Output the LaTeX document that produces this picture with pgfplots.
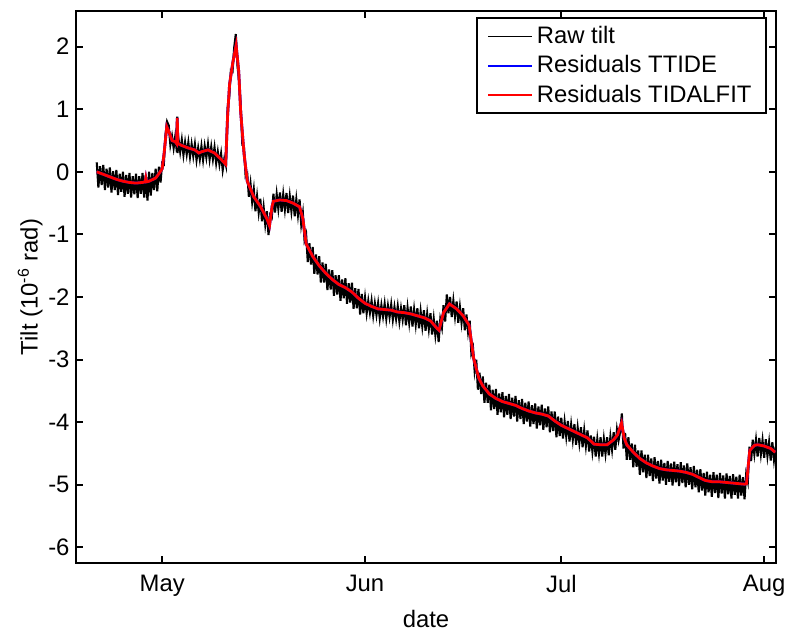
\documentclass[border=0pt]{standalone}
\usepackage{fontspec}
\setmainfont{Liberation Sans}
\usepackage{pgfplots}
\pgfplotsset{compat=1.18}
\usepackage{pgfplotstable}

\pgfplotstableread{
d y
-10 0.00
-9 -0.04
-8 -0.08
-7 -0.12
-6 -0.15
-5 -0.17
-4 -0.18
-3 -0.17
-2.6 -0.16
-2.5 -0.10
-2.4 -0.16
-2 -0.15
-1 -0.10
-0.5 -0.03
0 0.05
0.3 0.30
0.7 0.72
1 0.65
1.5 0.50
2 0.48
2.2 0.45
2.3 0.86
2.4 0.45
3 0.42
4 0.38
5 0.35
5.6 0.30
6 0.32
7 0.35
8 0.30
9 0.20
9.7 0.12
10 0.90
10.3 1.40
10.8 1.75
11.3 2.02
11.7 1.60
12 0.95
12.5 0.30
13 -0.15
14 -0.40
15 -0.55
16 -0.75
16.4 -0.86
16.8 -0.55
17 -0.47
18 -0.45
19 -0.46
20 -0.50
21 -0.56
21.5 -0.75
22 -1.15
23 -1.35
24 -1.50
25 -1.62
26 -1.72
27 -1.80
28 -1.85
29 -1.92
30 -2.02
31 -2.10
32 -2.15
33 -2.19
34 -2.20
35 -2.21
36 -2.24
37 -2.25
38 -2.27
39 -2.30
40 -2.33
41 -2.38
42 -2.50
42.3 -2.53
43 -2.25
43.9 -2.11
45 -2.19
46 -2.30
46.9 -2.45
47.3 -2.75
47.6 -2.98
48.4 -3.30
49 -3.42
49.7 -3.51
50 -3.55
51 -3.62
52 -3.67
53 -3.70
54 -3.73
55 -3.78
56 -3.82
57 -3.85
58 -3.87
59 -3.90
60 -3.98
61 -4.05
62 -4.10
63 -4.15
64 -4.20
65 -4.25
66 -4.35
67 -4.36
68 -4.36
69 -4.28
69.6 -4.20
70.2 -4.01
70.6 -4.25
71 -4.36
72 -4.48
73 -4.58
74 -4.65
75 -4.70
76 -4.74
77 -4.76
78 -4.77
79 -4.78
80 -4.80
81 -4.83
82 -4.88
83 -4.93
84 -4.95
85 -4.95
86 -4.96
87 -4.97
88 -4.98
89 -4.99
89.3 -4.98
89.8 -4.45
90.5 -4.37
91 -4.36
92 -4.38
93 -4.42
93.7 -4.48
}\resid

\pgfplotstableread{
d y
-10 0.15
-9.75 -0.25
-9.5 0.09
-9.25 -0.21
-9 0.11
-8.75 -0.29
-8.5 0.05
-8.25 -0.25
-8 0.07
-7.75 -0.33
-7.5 0.01
-7.25 -0.29
-7 0.03
-6.75 -0.37
-6.5 -0.03
-6.25 -0.32
-6 0.00
-5.75 -0.40
-5.5 -0.05
-5.25 -0.35
-5 -0.02
-4.75 -0.41
-4.5 -0.07
-4.25 -0.36
-4 -0.03
-3.75 -0.42
-3.5 -0.07
-3.25 -0.35
-3 -0.02
-2.75 -0.41
-2.5 -0.05
-2.25 -0.46
-2 0.00
-1.75 -0.38
-1.5 -0.02
-1.25 -0.29
-1 0.05
-0.75 -0.31
-0.5 0.08
-0.25 -0.17
0 0.14
0.25 0.12
0.5 0.58
0.75 0.80
1 0.74
1.25 0.43
1.5 0.57
1.75 0.38
2 0.57
2.25 0.31
2.3 0.88
2.35 0.30
2.5 0.52
2.75 0.32
3 0.51
3.25 0.27
3.5 0.47
3.75 0.28
4 0.47
4.25 0.24
4.5 0.44
4.75 0.25
5 0.44
5.25 0.19
5.5 0.38
5.75 0.20
6 0.41
6.25 0.19
6.5 0.41
6.75 0.23
7 0.44
7.25 0.20
7.5 0.40
7.75 0.20
8 0.39
8.25 0.14
8.5 0.32
8.75 0.12
9 0.29
9.25 0.03
9.5 0.21
9.75 0.10
10 1.02
10.25 1.20
10.5 1.62
10.75 1.60
11 1.98
11.25 2.20
11.5 1.70
11.75 1.45
12 1.07
12.25 0.43
12.5 0.39
12.75 -0.07
13 -0.03
13.25 -0.40
13.5 -0.19
13.75 -0.48
14 -0.28
14.25 -0.63
14.5 -0.39
14.75 -0.65
15 -0.43
15.25 -0.79
15.5 -0.56
15.75 -0.84
16 -0.63
16.25 -1.01
16.5 -0.69
16.75 -0.73
17 -0.35
17.25 -0.65
17.5 -0.36
17.75 -0.59
18 -0.33
18.25 -0.64
18.5 -0.36
18.75 -0.60
19 -0.34
19.25 -0.66
19.5 -0.39
19.75 -0.63
20 -0.38
20.25 -0.71
20.5 -0.44
20.75 -0.69
21 -0.44
21.25 -0.84
21.5 -0.66
21.75 -1.09
22 -1.00
22.25 -1.44
22.5 -1.14
22.75 -1.48
23 -1.20
23.25 -1.63
23.5 -1.32
23.75 -1.64
24 -1.35
24.25 -1.77
24.5 -1.45
24.75 -1.77
25 -1.47
25.25 -1.89
25.5 -1.56
25.75 -1.88
26 -1.57
26.25 -1.98
26.5 -1.65
26.75 -1.96
27 -1.65
27.25 -2.06
27.5 -1.72
27.75 -2.02
28 -1.70
28.25 -2.11
28.5 -1.78
28.75 -2.09
29 -1.77
29.25 -2.19
29.5 -1.86
29.75 -2.18
30 -1.87
30.25 -2.28
30.5 -1.95
30.75 -2.26
31 -2.01
31.25 -2.26
31.5 -2.06
31.75 -2.25
32 -2.06
32.25 -2.30
32.5 -2.10
32.75 -2.29
33 -2.10
33.25 -2.34
33.5 -2.13
33.75 -2.31
34 -2.11
34.25 -2.35
34.5 -2.14
34.75 -2.32
35 -2.12
35.25 -2.36
35.5 -2.16
35.75 -2.35
36 -2.15
36.25 -2.39
36.5 -2.18
36.75 -2.36
37 -2.13
37.25 -2.45
37.5 -2.17
37.75 -2.41
38 -2.15
38.25 -2.47
38.5 -2.20
38.75 -2.44
39 -2.18
39.25 -2.50
39.5 -2.23
39.75 -2.47
40 -2.21
40.25 -2.54
40.5 -2.27
40.75 -2.51
41 -2.26
41.25 -2.60
41.5 -2.35
41.75 -2.61
42 -2.38
42.25 -2.72
42.5 -2.36
42.75 -2.49
43 -2.13
43.25 -2.39
43.5 -1.96
43.75 -2.26
44 -2.00
44.25 -2.32
44.5 -2.06
44.75 -2.31
45 -2.07
45.25 -2.41
45.5 -2.16
45.75 -2.41
46 -2.18
46.25 -2.53
46.5 -2.28
46.75 -2.56
47 -2.38
47.25 -2.90
47.5 -2.81
47.75 -3.18
48 -3.00
48.25 -3.48
48.5 -3.21
48.75 -3.55
49 -3.27
49.25 -3.69
49.5 -3.37
49.75 -3.69
50 -3.40
50.25 -3.81
50.5 -3.48
50.75 -3.79
51 -3.47
51.25 -3.88
51.5 -3.54
51.75 -3.84
52 -3.52
52.25 -3.92
52.5 -3.58
52.75 -3.88
53 -3.55
53.25 -3.95
53.5 -3.61
53.75 -3.91
54 -3.58
54.25 -3.99
54.5 -3.65
54.75 -3.95
55 -3.63
55.25 -4.03
55.5 -3.69
55.75 -3.99
56 -3.67
56.25 -4.07
56.5 -3.73
56.75 -4.03
57 -3.70
57.25 -4.10
57.5 -3.75
57.75 -4.05
58 -3.72
58.25 -4.12
58.5 -3.78
58.75 -4.08
59 -3.75
59.25 -4.16
59.5 -3.83
59.75 -4.14
60 -3.83
60.25 -4.24
60.5 -3.91
60.75 -4.22
61 -3.93
61.25 -4.26
61.5 -3.99
61.75 -4.23
62 -3.98
62.25 -4.31
62.5 -4.04
62.75 -4.28
63 -4.03
63.25 -4.36
63.5 -4.09
63.75 -4.33
64 -4.08
64.25 -4.40
64.5 -4.13
64.75 -4.38
65 -4.13
65.25 -4.47
65.5 -4.21
65.75 -4.47
66 -4.23
66.25 -4.55
66.5 -4.27
66.75 -4.50
67 -4.24
67.25 -4.55
67.5 -4.27
67.75 -4.50
68 -4.24
68.25 -4.53
68.5 -4.23
68.75 -4.44
69 -4.16
69.25 -4.44
69.5 -4.12
69.75 -4.29
70 -4.15
70.25 -3.86
70.5 -4.42
70.75 -4.17
71 -4.60
71.25 -4.24
71.5 -4.60
71.75 -4.34
72 -4.72
72.25 -4.36
72.5 -4.71
72.75 -4.45
73 -4.84
73.25 -4.45
73.5 -4.80
73.75 -4.52
74 -4.89
74.25 -4.52
74.5 -4.86
74.75 -4.58
75 -4.94
75.25 -4.56
75.5 -4.90
75.75 -4.62
76 -4.98
76.25 -4.60
76.5 -4.93
76.75 -4.65
77 -5.00
77.25 -4.62
77.5 -4.95
77.75 -4.66
78 -5.01
78.25 -4.63
78.5 -4.96
78.75 -4.67
79 -5.02
79.25 -4.64
79.5 -4.97
79.75 -4.69
80 -5.04
80.25 -4.66
80.5 -5.00
80.75 -4.72
81 -5.07
81.25 -4.70
81.5 -5.04
81.75 -4.76
82 -5.12
82.25 -4.75
82.5 -5.09
82.75 -4.81
83 -5.17
83.25 -4.79
83.5 -5.12
83.75 -4.84
84 -5.19
84.25 -4.80
84.5 -5.13
84.75 -4.84
85 -5.21
85.25 -4.81
85.5 -5.14
85.75 -4.85
86 -5.22
86.25 -4.82
86.5 -5.15
86.75 -4.86
87 -5.22
87.25 -4.83
87.5 -5.16
87.75 -4.87
88 -5.22
88.25 -4.84
88.5 -5.17
88.75 -4.88
89 -5.23
89.25 -4.83
89.5 -4.95
89.75 -4.39
90 -4.62
90.25 -4.28
90.5 -4.51
90.75 -4.28
91 -4.55
91.25 -4.25
91.5 -4.51
91.75 -4.29
92 -4.57
92.25 -4.27
92.5 -4.54
92.75 -4.32
93 -4.61
93.25 -4.32
93.5 -4.60
93.75 -4.39
}\raw

\begin{document}
\begin{tikzpicture}
\begin{axis}[
  scale only axis, width=352pt, height=278pt,
  xmin=-13.1, xmax=93.75, ymin=-6.25, ymax=2.57,
  xtick={0,31,61,92}, xticklabels={May,Jun,Jul,Aug},
  ytick={-6,-5,-4,-3,-2,-1,0,1,2},
  tick align=inside, major tick length=3.5pt,
  axis line style={line width=1pt},
  every tick/.style={black, line width=1pt},
  /pgf/number format/assume math mode=true,
  tick label style={font=\fontsize{12}{14}\selectfont},
  xticklabel style={yshift=-2.5pt},
  label style={font=\fontsize{12}{14}\selectfont},
  xlabel={date}, ylabel={Tilt (10\textsuperscript{-6} rad)},
  ylabel shift=-4pt,
  legend style={name=leg, at={(0.986,0.987)}, anchor=north east, draw=none, fill=white,
    font=\fontsize{12}{14}\selectfont, inner xsep=5pt, inner ysep=2pt, row sep=0.5pt},
  legend cell align=left,
]
\addplot[draw=black, line width=1.05pt,
  legend image code/.code={\draw[draw=black, line width=0.8pt] (0cm,0cm) -- (0.78cm,0cm);}] table {\raw};
\addlegendentry{Raw tilt}
\addplot[draw=blue, line width=1.4pt,
  legend image code/.code={\draw[draw=blue, line width=0.8pt] (0cm,0cm) -- (0.78cm,0cm);}] table {\resid};
\addlegendentry{Residuals TTIDE}
\addplot[draw=red, line width=1.4pt,
  legend image code/.code={\draw[draw=red, line width=0.8pt] (0cm,0cm) -- (0.78cm,0cm);}] table {\resid};
\addlegendentry{Residuals TIDALFIT}
\end{axis}
\draw[line width=1pt] (leg.south west) rectangle (leg.north east);
\path (current axis.north west) ++(-38.5pt,5.5pt) coordinate (bbA);
\path (current axis.south east) ++(5.5pt,-28pt) coordinate (bbB);
\path (bbA) rectangle (bbB);
\end{tikzpicture}
\end{document}
